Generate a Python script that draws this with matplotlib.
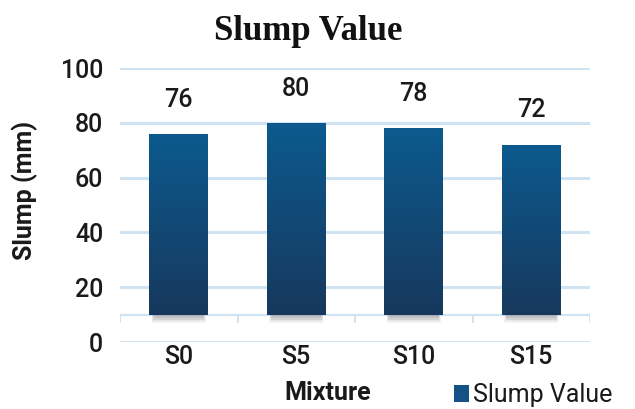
import matplotlib
matplotlib.use("Agg")
import matplotlib.pyplot as plt
import numpy as np
from matplotlib.colors import LinearSegmentedColormap
from matplotlib.patches import Patch, Rectangle

# Data
mixtures = ["S0", "S5", "S10", "S15"]
slump_mm = [76, 80, 78, 72]
y_ticks = [0, 20, 40, 60, 80, 100]

# Styling
FLOOR = 10          # level where the bars stand (pseudo-3D floor)
BAR_W = 0.5
GRID_C = "#cfe3f3"
TOP_C = "#0c5a8e"
BOT_C = "#17385d"
TXT_C = "#1a1a1a"
SANS = ["Roboto", "DejaVu Sans"]

fig = plt.figure(figsize=(6.35, 4.09), dpi=100)
W, H = 635, 409
ax = fig.add_axes([120 / W, (H - 342) / H, 470 / W, 274 / H])

ax.set_xlim(-0.5, len(mixtures) - 0.5)
ax.set_ylim(0, 100)

# horizontal gridlines
for yv in y_ticks:
    ax.axhline(yv, color=GRID_C, lw=2.2, zorder=0)

# floor line with category separators
ax.plot([-0.5, len(mixtures) - 0.5], [FLOOR, FLOOR], color=GRID_C, lw=1.6, zorder=1,
        solid_capstyle="butt")
for b in np.arange(-0.5, len(mixtures), 1.0):
    ax.plot([b, b], [FLOOR, FLOOR - 2.6], color=GRID_C, lw=1.4, zorder=1)

cmap = LinearSegmentedColormap.from_list("bar", [BOT_C, TOP_C])
grad = np.linspace(0, 1, 256).reshape(-1, 1)

for i, v in enumerate(slump_mm):
    x0, x1 = i - BAR_W / 2, i + BAR_W / 2
    # soft shadow under the bar
    for k, a in enumerate([0.07, 0.09, 0.11, 0.13]):
        ax.add_patch(Rectangle((x0 + 0.02 + k * 0.006, FLOOR - 3.0 + k * 0.6),
                               BAR_W - 0.04 - k * 0.012, 3.0 - k * 0.6,
                               facecolor="#555555", alpha=a, lw=0, zorder=2))
    ax.imshow(grad, cmap=cmap, origin="lower", aspect="auto",
              extent=[x0, x1, FLOOR, v], zorder=3, interpolation="bilinear")
    ax.text(i, v + 12.5, f"{v}", ha="center", va="center", fontsize=18,
            color=TXT_C, family=SANS, fontweight="medium")

ax.set_xlim(-0.5, len(mixtures) - 0.5)
ax.set_ylim(0, 100)

ax.set_yticks(y_ticks)
ax.set_yticklabels([str(t) for t in y_ticks], fontsize=18, color=TXT_C, family=SANS,
                   fontweight="medium")
ax.set_xticks(range(len(mixtures)))
ax.set_xticklabels(mixtures, fontsize=18, color=TXT_C, family=SANS, fontweight="medium")
ax.tick_params(axis="both", length=0)
ax.tick_params(axis="x", pad=2)
ax.tick_params(axis="y", pad=12)
for s in ax.spines.values():
    s.set_visible(False)

fig.text(308 / W, 1 - 31 / H, "Slump Value", ha="center", va="center",
         fontsize=25, fontweight="bold", family=["Liberation Serif", "DejaVu Serif"],
         color="#111111")
fig.text(25 / W, 1 - 190 / H, "Slump (mm)", rotation=90, ha="center", va="center",
         fontsize=18, fontweight="bold", family=SANS, color=TXT_C)
fig.text(328 / W, 1 - 393 / H, "Mixture", ha="center", va="center",
         fontsize=18, fontweight="bold", family=SANS, color=TXT_C)

leg = fig.legend(handles=[Patch(facecolor="#145186", edgecolor="none")],
                 labels=["Slump Value"], loc="center left",
                 bbox_to_anchor=(454 / W, 1 - 395 / H), frameon=False,
                 prop={"family": SANS, "size": 18}, handlelength=0.6,
                 handleheight=0.7, handletextpad=0.15, borderaxespad=0,
                 borderpad=0)
for t in leg.get_texts():
    t.set_color(TXT_C)

fig.savefig("out.png", dpi=100, facecolor="white")
